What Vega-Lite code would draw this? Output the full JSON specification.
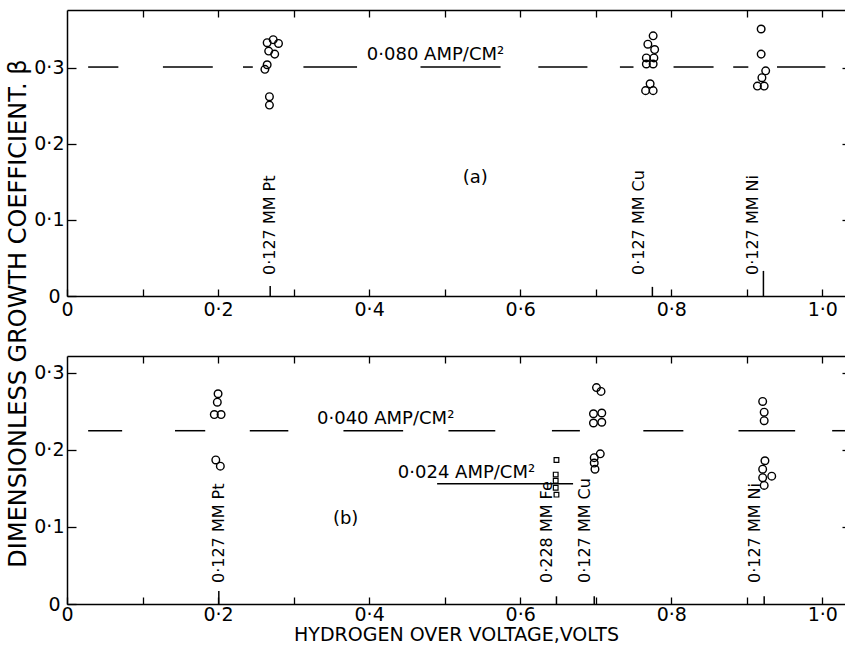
{
  "$schema": "https://vega.github.io/schema/vega-lite/v6.json",
  "background": "white",
  "padding": {"left": 5, "top": 9, "right": 0, "bottom": 0},
  "config": {
    "font": "DejaVu Sans",
    "view": {"stroke": null},
    "axis": {"grid": false, "domainColor": "black", "tickColor": "black", "labelColor": "black", "titleColor": "black", "labelFont": "DejaVu Sans", "titleFont": "DejaVu Sans", "domainWidth": 1.5, "tickWidth": 1.3, "labelFontSize": 19, "labelFlush": false, "labelOverlap": false, "labelBound": false}
  },
  "datasets": {
    "points": [
      {"panel": "a", "v": 0.265, "beta": 0.333, "sym": "circle"},
      {"panel": "a", "v": 0.273, "beta": 0.337, "sym": "circle"},
      {"panel": "a", "v": 0.280, "beta": 0.332, "sym": "circle"},
      {"panel": "a", "v": 0.267, "beta": 0.322, "sym": "circle"},
      {"panel": "a", "v": 0.275, "beta": 0.318, "sym": "circle"},
      {"panel": "a", "v": 0.265, "beta": 0.304, "sym": "circle"},
      {"panel": "a", "v": 0.262, "beta": 0.298, "sym": "circle"},
      {"panel": "a", "v": 0.268, "beta": 0.262, "sym": "circle"},
      {"panel": "a", "v": 0.268, "beta": 0.251, "sym": "circle"},
      {"panel": "a", "v": 0.776, "beta": 0.342, "sym": "circle"},
      {"panel": "a", "v": 0.769, "beta": 0.331, "sym": "circle"},
      {"panel": "a", "v": 0.778, "beta": 0.324, "sym": "circle"},
      {"panel": "a", "v": 0.767, "beta": 0.313, "sym": "circle"},
      {"panel": "a", "v": 0.777, "beta": 0.313, "sym": "circle"},
      {"panel": "a", "v": 0.767, "beta": 0.305, "sym": "circle"},
      {"panel": "a", "v": 0.776, "beta": 0.305, "sym": "circle"},
      {"panel": "a", "v": 0.772, "beta": 0.279, "sym": "circle"},
      {"panel": "a", "v": 0.766, "beta": 0.270, "sym": "circle"},
      {"panel": "a", "v": 0.776, "beta": 0.270, "sym": "circle"},
      {"panel": "a", "v": 0.919, "beta": 0.351, "sym": "circle"},
      {"panel": "a", "v": 0.919, "beta": 0.318, "sym": "circle"},
      {"panel": "a", "v": 0.925, "beta": 0.296, "sym": "circle"},
      {"panel": "a", "v": 0.920, "beta": 0.287, "sym": "circle"},
      {"panel": "a", "v": 0.914, "beta": 0.276, "sym": "circle"},
      {"panel": "a", "v": 0.923, "beta": 0.276, "sym": "circle"},
      {"panel": "b", "v": 0.200, "beta": 0.273, "sym": "circle"},
      {"panel": "b", "v": 0.199, "beta": 0.262, "sym": "circle"},
      {"panel": "b", "v": 0.195, "beta": 0.246, "sym": "circle"},
      {"panel": "b", "v": 0.204, "beta": 0.246, "sym": "circle"},
      {"panel": "b", "v": 0.197, "beta": 0.187, "sym": "circle"},
      {"panel": "b", "v": 0.203, "beta": 0.179, "sym": "circle"},
      {"panel": "b", "v": 0.701, "beta": 0.281, "sym": "circle"},
      {"panel": "b", "v": 0.707, "beta": 0.276, "sym": "circle"},
      {"panel": "b", "v": 0.697, "beta": 0.247, "sym": "circle"},
      {"panel": "b", "v": 0.708, "beta": 0.248, "sym": "circle"},
      {"panel": "b", "v": 0.697, "beta": 0.235, "sym": "circle"},
      {"panel": "b", "v": 0.708, "beta": 0.236, "sym": "circle"},
      {"panel": "b", "v": 0.706, "beta": 0.195, "sym": "circle"},
      {"panel": "b", "v": 0.698, "beta": 0.190, "sym": "circle"},
      {"panel": "b", "v": 0.698, "beta": 0.183, "sym": "circle"},
      {"panel": "b", "v": 0.699, "beta": 0.175, "sym": "circle"},
      {"panel": "b", "v": 0.921, "beta": 0.263, "sym": "circle"},
      {"panel": "b", "v": 0.923, "beta": 0.249, "sym": "circle"},
      {"panel": "b", "v": 0.923, "beta": 0.238, "sym": "circle"},
      {"panel": "b", "v": 0.924, "beta": 0.186, "sym": "circle"},
      {"panel": "b", "v": 0.921, "beta": 0.175, "sym": "circle"},
      {"panel": "b", "v": 0.933, "beta": 0.166, "sym": "circle"},
      {"panel": "b", "v": 0.921, "beta": 0.164, "sym": "circle"},
      {"panel": "b", "v": 0.923, "beta": 0.154, "sym": "circle"},
      {"panel": "b", "v": 0.648, "beta": 0.187, "sym": "square"},
      {"panel": "b", "v": 0.647, "beta": 0.168, "sym": "square"},
      {"panel": "b", "v": 0.647, "beta": 0.160, "sym": "square"},
      {"panel": "b", "v": 0.647, "beta": 0.151, "sym": "square"},
      {"panel": "b", "v": 0.648, "beta": 0.142, "sym": "square"}
    ],
    "dashes": [
      {"panel": "a", "x1": 0.028, "x2": 0.068, "y": 0.301},
      {"panel": "a", "x1": 0.127, "x2": 0.193, "y": 0.301},
      {"panel": "a", "x1": 0.233, "x2": 0.246, "y": 0.301},
      {"panel": "a", "x1": 0.313, "x2": 0.384, "y": 0.301},
      {"panel": "a", "x1": 0.468, "x2": 0.574, "y": 0.301},
      {"panel": "a", "x1": 0.624, "x2": 0.689, "y": 0.301},
      {"panel": "a", "x1": 0.732, "x2": 0.750, "y": 0.301},
      {"panel": "a", "x1": 0.803, "x2": 0.856, "y": 0.301},
      {"panel": "a", "x1": 0.882, "x2": 0.902, "y": 0.301},
      {"panel": "a", "x1": 0.940, "x2": 1.004, "y": 0.301},
      {"panel": "b", "x1": 0.028, "x2": 0.073, "y": 0.225},
      {"panel": "b", "x1": 0.143, "x2": 0.183, "y": 0.225},
      {"panel": "b", "x1": 0.242, "x2": 0.293, "y": 0.225},
      {"panel": "b", "x1": 0.366, "x2": 0.445, "y": 0.225},
      {"panel": "b", "x1": 0.505, "x2": 0.567, "y": 0.225},
      {"panel": "b", "x1": 0.642, "x2": 0.679, "y": 0.225},
      {"panel": "b", "x1": 0.763, "x2": 0.816, "y": 0.225},
      {"panel": "b", "x1": 0.889, "x2": 0.964, "y": 0.225},
      {"panel": "b", "x1": 1.013, "x2": 1.03, "y": 0.225},
      {"panel": "b", "x1": 0.490, "x2": 0.670, "y": 0.156}
    ],
    "labels": [
      {"panel": "a", "text": "0·127 MM Pt", "lx": 0.269, "tx": 0.269, "y0": 0, "th": 0.013},
      {"panel": "a", "text": "0·127 MM Cu", "lx": 0.757, "tx": 0.775, "y0": 0, "th": 0.012},
      {"panel": "a", "text": "0·127 MM Ni", "lx": 0.908, "tx": 0.922, "y0": 0, "th": 0.033},
      {"panel": "b", "text": "0·127 MM Pt", "lx": 0.201, "tx": 0.201, "y0": 0, "th": 0.017},
      {"panel": "b", "text": "0·228 MM Fe", "lx": 0.636, "tx": 0.648, "y0": 0, "th": 0.010},
      {"panel": "b", "text": "0·127 MM Cu", "lx": 0.686, "tx": 0.698, "y0": 0, "th": 0.010},
      {"panel": "b", "text": "0·127 MM Ni", "lx": 0.911, "tx": 0.923, "y0": 0, "th": 0.010}
    ],
    "notes": [
      {"panel": "a", "text": "0·080 AMP/CM²", "x": 0.397, "y": 0.317},
      {"panel": "a", "text": "(a)", "x": 0.524, "y": 0.155},
      {"panel": "b", "text": "0·040 AMP/CM²", "x": 0.331, "y": 0.240},
      {"panel": "b", "text": "0·024 AMP/CM²", "x": 0.438, "y": 0.170},
      {"panel": "b", "text": "(b)", "x": 0.352, "y": 0.11}
    ]
  },
  "spacing": 60,
  "bounds": "flush",
  "vconcat": [
    {
      "width": 778,
      "height": 286,
      "resolve": {"axis": {"x": "independent", "y": "independent"}},
      "layer": [
        {
          "data": {"name": "points"},
          "transform": [{"filter": "datum.panel == 'a'"}],
          "mark": {"type": "point", "shape": "circle", "filled": false, "stroke": "black", "strokeWidth": 1.4, "size": 58, "opacity": 1},
          "encoding": {
            "x": {"field": "v", "type": "quantitative", "scale": {"domain": [0, 1.03], "nice": false, "zero": false},
              "axis": {"orient": "bottom", "values": [0, 0.1, 0.2, 0.3, 0.4, 0.5, 0.6, 0.7, 0.8, 0.9, 1.0], "labelExpr": "datum.value == 0 ? '0' : (round(datum.value * 10) % 2 == 0 ? replace(format(datum.value, '.1f'), '.', '·') : '')", "tickSize": -7, "labelPadding": 11, "title": null}},
            "y": {"field": "beta", "type": "quantitative", "scale": {"domain": [0, 0.376], "nice": false, "zero": false},
              "axis": {"orient": "left", "values": [0, 0.1, 0.2, 0.3], "labelExpr": "datum.value == 0 ? '0' : replace(format(datum.value, '.1f'), '.', '·')", "tickSize": -9, "labelPadding": {"condition": {"test": "datum.value == 0", "value": 16}, "value": 12}, "title": "DIMENSIONLESS GROWTH COEFFICIENT. β", "titleFontSize": 24, "titleFontWeight": "normal", "titleX": -49, "titleY": 303, "titleAngle": 270, "titleAlign": "center", "titleBaseline": "middle"}}
          }
        },
        {
          "data": {"name": "dashes"},
          "transform": [{"filter": "datum.panel == 'a'"}],
          "mark": {"type": "rule", "stroke": "black", "strokeWidth": 1.5},
          "encoding": {
            "x": {"field": "x1", "type": "quantitative", "scale": {"domain": [0, 1.03], "nice": false, "zero": false},
              "axis": {"orient": "top", "values": [0.1, 0.2, 0.3, 0.4, 0.5, 0.6, 0.7, 0.8, 0.9, 1.0], "labels": false, "tickSize": -7, "title": null}},
            "x2": {"field": "x2"},
            "y": {"field": "y", "type": "quantitative", "scale": {"domain": [0, 0.376], "nice": false, "zero": false},
              "axis": {"orient": "right", "values": [0.1, 0.2, 0.3], "labels": false, "domain": false, "tickSize": -3, "title": null}}
          }
        },
        {
          "data": {"name": "labels"},
          "transform": [{"filter": "datum.panel == 'a'"}],
          "mark": {"type": "rule", "stroke": "black", "strokeWidth": 1.5},
          "encoding": {
            "x": {"field": "tx", "type": "quantitative", "scale": {"domain": [0, 1.03], "nice": false, "zero": false}, "axis": null},
            "y": {"field": "y0", "type": "quantitative", "scale": {"domain": [0, 0.376], "nice": false, "zero": false}, "axis": null},
            "y2": {"field": "th"}
          }
        },
        {
          "data": {"name": "labels"},
          "transform": [{"filter": "datum.panel == 'a'"}],
          "mark": {"type": "text", "angle": 270, "align": "left", "baseline": "middle", "dx": 21, "fontSize": 16, "font": "DejaVu Sans", "color": "black"},
          "encoding": {
            "x": {"field": "lx", "type": "quantitative", "scale": {"domain": [0, 1.03], "nice": false, "zero": false}, "axis": null},
            "y": {"field": "y0", "type": "quantitative", "scale": {"domain": [0, 0.376], "nice": false, "zero": false}, "axis": null},
            "text": {"field": "text", "type": "nominal"}
          }
        },
        {
          "data": {"name": "notes"},
          "transform": [{"filter": "datum.panel == 'a'"}],
          "mark": {"type": "text", "align": "left", "baseline": "middle", "fontSize": 18, "font": "DejaVu Sans", "color": "black"},
          "encoding": {
            "x": {"field": "x", "type": "quantitative", "scale": {"domain": [0, 1.03], "nice": false, "zero": false}, "axis": null},
            "y": {"field": "y", "type": "quantitative", "scale": {"domain": [0, 0.376], "nice": false, "zero": false}, "axis": null},
            "text": {"field": "text", "type": "nominal"}
          }
        }
      ]
    },
    {
      "width": 778,
      "height": 248,
      "resolve": {"axis": {"x": "independent", "y": "independent"}},
      "layer": [
        {
          "data": {"name": "points"},
          "transform": [{"filter": "datum.panel == 'b' && datum.sym == 'circle'"}],
          "mark": {"type": "point", "shape": "circle", "filled": false, "stroke": "black", "strokeWidth": 1.4, "size": 58, "opacity": 1},
          "encoding": {
            "x": {"field": "v", "type": "quantitative", "scale": {"domain": [0, 1.03], "nice": false, "zero": false},
              "axis": {"orient": "bottom", "values": [0, 0.1, 0.2, 0.3, 0.4, 0.5, 0.6, 0.7, 0.8, 0.9, 1.0], "labelExpr": "datum.value == 0 ? '0' : (round(datum.value * 10) % 2 == 0 ? replace(format(datum.value, '.1f'), '.', '·') : '')", "tickSize": -7, "labelPadding": 8, "title": "HYDROGEN OVER VOLTAGE,VOLTS", "titleFontSize": 19, "titleFontWeight": "normal", "titlePadding": 1}},
            "y": {"field": "beta", "type": "quantitative", "scale": {"domain": [0, 0.322], "nice": false, "zero": false},
              "axis": {"orient": "left", "values": [0, 0.1, 0.2, 0.3], "labelExpr": "datum.value == 0 ? '0' : replace(format(datum.value, '.1f'), '.', '·')", "tickSize": -9, "labelPadding": {"condition": {"test": "datum.value == 0", "value": 16}, "value": 12}, "title": null}}
          }
        },
        {
          "data": {"name": "points"},
          "transform": [{"filter": "datum.panel == 'b' && datum.sym == 'square'"}],
          "mark": {"type": "point", "shape": "square", "filled": false, "stroke": "black", "strokeWidth": 1.2, "size": 22, "opacity": 1},
          "encoding": {
            "x": {"field": "v", "type": "quantitative", "scale": {"domain": [0, 1.03], "nice": false, "zero": false}, "axis": null},
            "y": {"field": "beta", "type": "quantitative", "scale": {"domain": [0, 0.322], "nice": false, "zero": false}, "axis": null}
          }
        },
        {
          "data": {"name": "dashes"},
          "transform": [{"filter": "datum.panel == 'b'"}],
          "mark": {"type": "rule", "stroke": "black", "strokeWidth": 1.5},
          "encoding": {
            "x": {"field": "x1", "type": "quantitative", "scale": {"domain": [0, 1.03], "nice": false, "zero": false},
              "axis": {"orient": "top", "values": [0.1, 0.2, 0.3, 0.4, 0.5, 0.6, 0.7, 0.8, 0.9, 1.0], "labels": false, "tickSize": -7, "title": null}},
            "x2": {"field": "x2"},
            "y": {"field": "y", "type": "quantitative", "scale": {"domain": [0, 0.322], "nice": false, "zero": false},
              "axis": {"orient": "right", "values": [0.1, 0.2, 0.3], "labels": false, "domain": false, "tickSize": -3, "title": null}}
          }
        },
        {
          "data": {"name": "labels"},
          "transform": [{"filter": "datum.panel == 'b'"}],
          "mark": {"type": "rule", "stroke": "black", "strokeWidth": 1.5},
          "encoding": {
            "x": {"field": "tx", "type": "quantitative", "scale": {"domain": [0, 1.03], "nice": false, "zero": false}, "axis": null},
            "y": {"field": "y0", "type": "quantitative", "scale": {"domain": [0, 0.322], "nice": false, "zero": false}, "axis": null},
            "y2": {"field": "th"}
          }
        },
        {
          "data": {"name": "labels"},
          "transform": [{"filter": "datum.panel == 'b'"}],
          "mark": {"type": "text", "angle": 270, "align": "left", "baseline": "middle", "dx": 21, "fontSize": 16, "font": "DejaVu Sans", "color": "black"},
          "encoding": {
            "x": {"field": "lx", "type": "quantitative", "scale": {"domain": [0, 1.03], "nice": false, "zero": false}, "axis": null},
            "y": {"field": "y0", "type": "quantitative", "scale": {"domain": [0, 0.322], "nice": false, "zero": false}, "axis": null},
            "text": {"field": "text", "type": "nominal"}
          }
        },
        {
          "data": {"name": "notes"},
          "transform": [{"filter": "datum.panel == 'b'"}],
          "mark": {"type": "text", "align": "left", "baseline": "middle", "fontSize": 18, "font": "DejaVu Sans", "color": "black"},
          "encoding": {
            "x": {"field": "x", "type": "quantitative", "scale": {"domain": [0, 1.03], "nice": false, "zero": false}, "axis": null},
            "y": {"field": "y", "type": "quantitative", "scale": {"domain": [0, 0.322], "nice": false, "zero": false}, "axis": null},
            "text": {"field": "text", "type": "nominal"}
          }
        }
      ]
    }
  ]
}
